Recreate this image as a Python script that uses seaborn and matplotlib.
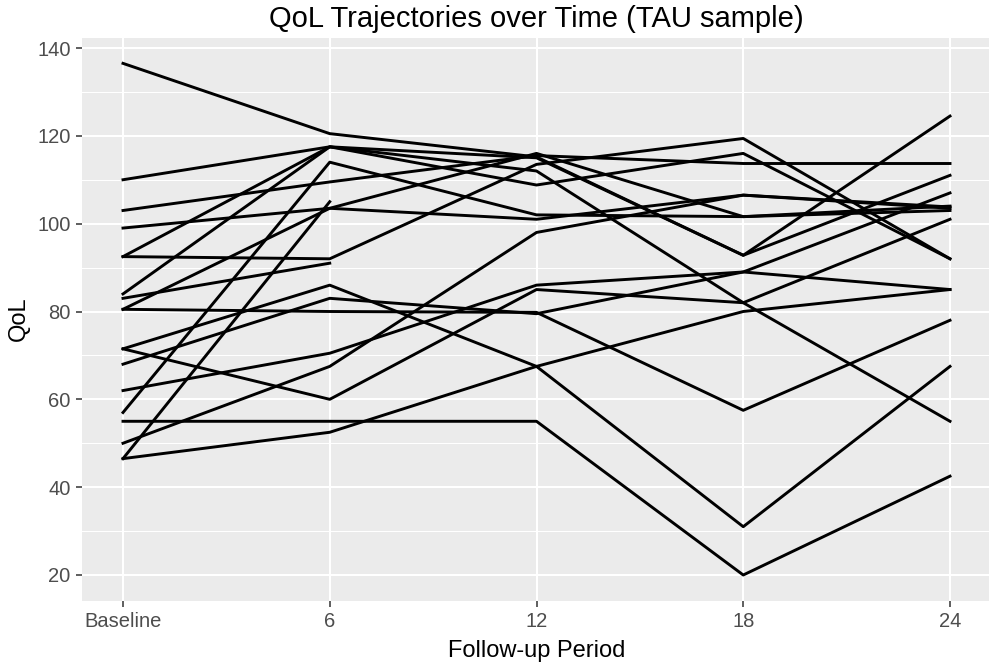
import numpy as np
import pandas as pd
import matplotlib
matplotlib.use("Agg")
import matplotlib.pyplot as plt
import seaborn as sns
from matplotlib.ticker import MultipleLocator, FixedLocator

# ---- data ----
times = [0, 6, 12, 18, 24]
time_labels = ["Baseline", "6", "12", "18", "24"]
subject_ids = list(range(1, 20))
qol_baseline = [136.5, 110, 103, 99, 92.5, 92.5, 84, 80.5, 80.5, 71.5, 71.5, 68, 62, 57, 55, 50, 46.5, 46.5, 83]
qol_m6 = [120.5, 117.5, 109.5, 103.5, 117.5, 92, 117.5, 80, 103.5, 86, 60, 83, 70.5, 114, 55, 67.5, 52.5, 105, 91]
qol_m12 = [115.2, 115, 115.5, 101, 108.8, 113.5, 112, 79.8, 116, 67.5, 85, 79.5, 86, 102, 55, 98, 67.5, np.nan, np.nan]
qol_m18 = [92.8, 92.8, 113.7, 106.5, 116, 119.4, 82, 57.5, 101.6, 31, 82, 89, 89, 101.6, 20, 106.5, 80, np.nan, np.nan]
qol_m24 = [111, 124.5, 113.7, 103.5, 92, 92, 55, 78, 103, 67.5, 101, 107, 85, 104, 42.5, 103.8, 85, np.nan, np.nan]

df = pd.DataFrame({
    "id": np.repeat(subject_ids, len(times)),
    "time": np.tile(times, len(subject_ids)),
    "qol": np.column_stack([qol_baseline, qol_m6, qol_m12, qol_m18, qol_m24]).ravel(),
}).dropna()

# ---- figure ----
W, H = 989, 666
fig = plt.figure(figsize=(W / 100, H / 100), dpi=100)
fig.patch.set_facecolor("white")

# panel position in pixels (ggplot layout)
px_per_x = (950 - 123) / 24
left_px = 123 - 1.2 * px_per_x
right_px = 950 + 1.2 * px_per_x
ylo, yhi = 14.175, 142.325
px_per_y = (575 - 48) / 120
top_px = 48 - (yhi - 140) * px_per_y
bot_px = 575 + (20 - ylo) * px_per_y
ax = fig.add_axes([left_px / W, 1 - bot_px / H, (right_px - left_px) / W, (bot_px - top_px) / H])
ax.set_facecolor("#EBEBEB")

sns.lineplot(data=df, x="time", y="qol", units="id", estimator=None,
             color="black", linewidth=2.1, ax=ax, legend=False, zorder=3)

ax.set_xlim(-1.2, 25.2)
ax.set_ylim(ylo, yhi)

ax.xaxis.set_major_locator(FixedLocator(times))
ax.set_xticklabels(time_labels)
ax.yaxis.set_major_locator(MultipleLocator(20))
ax.yaxis.set_minor_locator(FixedLocator([30, 50, 70, 90, 110, 130]))

ax.grid(which="major", color="white", linewidth=1.5, zorder=0)
ax.grid(which="minor", axis="y", color="white", linewidth=0.75, zorder=0)
ax.set_axisbelow(True)
for s in ax.spines.values():
    s.set_visible(False)

font = ["Liberation Sans", "DejaVu Sans"]
ax.tick_params(axis="both", which="major", length=4, width=1.1, color="#333333",
               labelcolor="#4D4D4D", labelsize=14.5, pad=4)
ax.tick_params(axis="y", which="minor", length=0)
for lab in ax.get_xticklabels() + ax.get_yticklabels():
    lab.set_family(font)

ax.set_xlabel("Follow-up Period", fontsize=17, family=font, color="black", labelpad=7)
ax.set_ylabel("QoL", fontsize=17, family=font, color="black", labelpad=5)
ax.set_title("QoL Trajectories over Time (TAU sample)", fontsize=21, family=font,
             color="black", pad=8)

fig.savefig("out.png", dpi=100)
